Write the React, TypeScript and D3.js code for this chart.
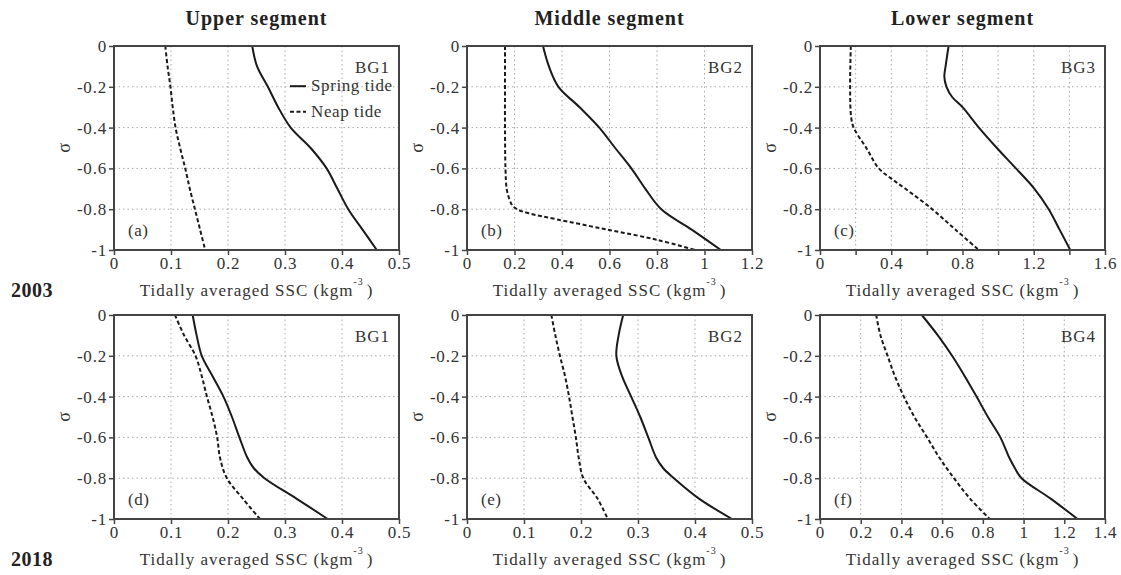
import React, { useRef, useEffect } from "react";
import * as d3 from "d3";

// column / row headings
const segmentTitles = ["Upper segment", "Middle segment", "Lower segment"];
const yearLabels = ["2003", "2018"];

// sigma levels used by most profiles
const sigmaStd = [0, -0.1, -0.2, -0.3, -0.4, -0.5, -0.6, -0.7, -0.8, -0.9, -1];

// (a) 2003 upper, BG1
const aSpring = [0.2425, 0.251, 0.27, 0.288, 0.31, 0.345, 0.373, 0.392, 0.411, 0.436, 0.461];
const aNeap = [0.09, 0.094, 0.099, 0.103, 0.108, 0.116, 0.125, 0.133, 0.142, 0.151, 0.16];

// (b) 2003 middle, BG2
const bSpring = [0.32, 0.345, 0.385, 0.474, 0.557, 0.624, 0.692, 0.751, 0.818, 0.946, 1.069];
const bNeapSigma = [0, -0.2, -0.4, -0.6, -0.7, -0.75, -0.78, -0.8, -0.82, -0.85, -0.9, -0.95, -1];
const bNeap = [0.16, 0.16, 0.16, 0.162, 0.167, 0.178, 0.19, 0.21, 0.26, 0.38, 0.59, 0.8, 0.96];

// (c) 2003 lower, BG3
const cSpringSigma = [0, -0.1, -0.15, -0.2, -0.25, -0.3, -0.4, -0.5, -0.6, -0.7, -0.8, -0.9, -1];
const cSpring = [0.722, 0.705, 0.698, 0.71, 0.742, 0.8, 0.892, 0.993, 1.1, 1.204, 1.284, 1.345, 1.405];
const cNeapSigma = [0, -0.2, -0.35, -0.4, -0.5, -0.6, -0.65, -0.7, -0.8, -0.9, -1];
const cNeap = [0.173, 0.169, 0.175, 0.189, 0.26, 0.33, 0.4, 0.48, 0.63, 0.76, 0.892];

// (d) 2018 upper, BG1
const sigma75 = [0, -0.1, -0.2, -0.3, -0.4, -0.5, -0.6, -0.7, -0.75, -0.8, -0.9, -1];
const dSpring = [0.138, 0.145, 0.154, 0.173, 0.192, 0.207, 0.22, 0.234, 0.245, 0.264, 0.32, 0.375];
const dNeap = [0.107, 0.123, 0.143, 0.154, 0.163, 0.173, 0.181, 0.186, 0.198, 0.226, 0.256];

// (e) 2018 middle, BG2
const eSpring = [0.274, 0.266, 0.262, 0.272, 0.288, 0.304, 0.318, 0.332, 0.344, 0.363, 0.407, 0.465];
const eNeap = [0.148, 0.155, 0.163, 0.172, 0.179, 0.185, 0.191, 0.196, 0.204, 0.229, 0.247];

// (f) 2018 lower, BG4
const fSpring = [0.5, 0.579, 0.649, 0.711, 0.769, 0.825, 0.886, 0.93, 0.957, 0.99, 1.133, 1.265];
const fNeap = [0.276, 0.297, 0.332, 0.368, 0.412, 0.464, 0.526, 0.587, 0.658, 0.737, 0.834];

const zip = (sig, vals) => vals.map((v, i) => ({ s: sig[i], v }));

const panels = [
  { tag: "(a)", station: "BG1", row: 0, col: 0, xMax: 0.5, step: 0.1, labelStep: 0.1,
    spring: zip(sigmaStd, aSpring), neap: zip(sigmaStd, aNeap), legend: true },
  { tag: "(b)", station: "BG2", row: 0, col: 1, xMax: 1.2, step: 0.2, labelStep: 0.2,
    spring: zip(sigmaStd, bSpring), neap: zip(bNeapSigma, bNeap) },
  { tag: "(c)", station: "BG3", row: 0, col: 2, xMax: 1.6, step: 0.2, labelStep: 0.4,
    spring: zip(cSpringSigma, cSpring), neap: zip(cNeapSigma, cNeap) },
  { tag: "(d)", station: "BG1", row: 1, col: 0, xMax: 0.5, step: 0.1, labelStep: 0.1,
    spring: zip(sigma75, dSpring), neap: zip(sigmaStd, dNeap) },
  { tag: "(e)", station: "BG2", row: 1, col: 1, xMax: 0.5, step: 0.1, labelStep: 0.1,
    spring: zip(sigma75, eSpring), neap: zip(sigmaStd, eNeap) },
  { tag: "(f)", station: "BG4", row: 1, col: 2, xMax: 1.4, step: 0.2, labelStep: 0.2,
    spring: zip(sigma75, fSpring), neap: zip(sigmaStd, fNeap) },
];

const FONT = "'Liberation Serif', 'Times New Roman', serif";
const fmt = (d) => `${Math.round(d * 100) / 100}`;

const App = () => {
  const svgRef = useRef(null);

  useEffect(() => {
    const svg = d3.select(svgRef.current);
    svg.selectAll("*").remove();

    const width = 1121;
    const height = 575;
    svg.attr("width", width).attr("height", height);

    const colX = [114, 467, 820];
    const rowY = [46, 315];
    const pw = 285;
    const ph = 204;

    // column titles
    segmentTitles.forEach((t, i) => {
      svg.append("text")
        .attr("x", colX[i] + pw / 2)
        .attr("y", 25)
        .attr("text-anchor", "middle")
        .style("font-family", FONT)
        .style("font-weight", "bold")
        .style("font-size", "20px")
        .style("letter-spacing", "1px")
        .attr("fill", "#222")
        .text(t);
    });

    // year labels
    yearLabels.forEach((t, i) => {
      svg.append("text")
        .attr("x", 11)
        .attr("y", rowY[i] + ph + 47)
        .style("font-family", FONT)
        .style("font-weight", "bold")
        .style("font-size", "20px")
        .style("letter-spacing", "0.5px")
        .attr("fill", "#222")
        .text(t);
    });

    panels.forEach((p) => {
      const x0 = colX[p.col];
      const y0 = rowY[p.row];
      const g = svg.append("g").attr("transform", `translate(${x0},${y0})`);

      const xScale = d3.scaleLinear().domain([0, p.xMax]).range([0, pw]);
      const yScale = d3.scaleLinear().domain([-1, 0]).range([ph, 0]);

      const nx = Math.round(p.xMax / p.step);
      const xTicks = d3.range(nx + 1).map((i) => i * p.step);
      const yTicks = d3.range(6).map((i) => -i * 0.2);

      // dotted grid
      g.append("g")
        .selectAll("line")
        .data(xTicks.slice(1, -1))
        .enter()
        .append("line")
        .attr("x1", (d) => xScale(d))
        .attr("x2", (d) => xScale(d))
        .attr("y1", 0)
        .attr("y2", ph)
        .attr("stroke", "#a8a8a8")
        .attr("stroke-width", 1)
        .attr("stroke-dasharray", "1.5,3");
      g.append("g")
        .selectAll("line")
        .data(yTicks.slice(1, -1))
        .enter()
        .append("line")
        .attr("x1", 0)
        .attr("x2", pw)
        .attr("y1", (d) => yScale(d))
        .attr("y2", (d) => yScale(d))
        .attr("stroke", "#a8a8a8")
        .attr("stroke-width", 1)
        .attr("stroke-dasharray", "1.5,3");

      // profiles
      const line = d3
        .line()
        .x((d) => xScale(d.v))
        .y((d) => yScale(d.s))
        .curve(d3.curveCatmullRom.alpha(0.5));

      g.append("path")
        .datum(p.spring)
        .attr("fill", "none")
        .attr("stroke", "#1a1a1a")
        .attr("stroke-width", 2)
        .attr("d", line);

      g.append("path")
        .datum(p.neap)
        .attr("fill", "none")
        .attr("stroke", "#1a1a1a")
        .attr("stroke-width", 2)
        .attr("stroke-dasharray", "4,2.5")
        .attr("d", line);

      // frame
      g.append("rect")
        .attr("x", 0)
        .attr("y", 0)
        .attr("width", pw)
        .attr("height", ph)
        .attr("fill", "none")
        .attr("stroke", "#444")
        .attr("stroke-width", 2);

      // axes
      const xAxis = d3
        .axisBottom(xScale)
        .tickValues(xTicks)
        .tickSize(5)
        .tickPadding(2)
        .tickFormat((d) => {
          const k = Math.round((d / p.labelStep) * 1000) / 1000;
          return Number.isInteger(k) ? fmt(d) : "";
        });
      const yAxis = d3
        .axisLeft(yScale)
        .tickValues(yTicks)
        .tickSize(5)
        .tickPadding(2)
        .tickFormat(fmt);

      const xa = g.append("g").attr("transform", `translate(0,${ph})`).call(xAxis);
      const ya = g.append("g").call(yAxis);
      [xa, ya].forEach((a) => {
        a.select(".domain").remove();
        a.selectAll("line").attr("stroke", "#444").attr("stroke-width", 1.5);
        a.selectAll("text")
          .attr("fill", "#333")
          .style("font-family", FONT)
          .style("font-size", "17px")
          .style("letter-spacing", "0.8px");
      });

      // axis titles
      const xt = g.append("text")
        .attr("x", pw / 2)
        .attr("y", ph + 46)
        .attr("text-anchor", "middle")
        .attr("fill", "#333")
        .style("font-family", FONT)
        .style("font-size", "17px")
        .style("letter-spacing", "1px");
      xt.append("tspan").text("Tidally averaged SSC (kgm");
      xt.append("tspan").attr("dy", -11).style("font-size", "10px").text("-3");
      xt.append("tspan").attr("dy", 11).attr("dx", 3).text(")");

      g.append("text")
        .attr("transform", `translate(${-44},${ph / 2}) rotate(-90)`)
        .attr("text-anchor", "middle")
        .attr("fill", "#333")
        .style("font-family", FONT)
        .style("font-size", "18px")
        .text("σ");

      // station and panel tag
      g.append("text")
        .attr("x", pw - 9)
        .attr("y", yScale(-0.13))
        .attr("text-anchor", "end")
        .attr("fill", "#333")
        .style("font-family", FONT)
        .style("font-size", "17px")
        .style("letter-spacing", "1px")
        .text(p.station);

      g.append("text")
        .attr("x", 14)
        .attr("y", yScale(-0.93))
        .attr("fill", "#333")
        .style("font-family", FONT)
        .style("font-size", "17px")
        .style("letter-spacing", "0.5px")
        .text(p.tag);

      if (p.legend) {
        const items = [
          { label: "Spring tide", dash: null, s: -0.197 },
          { label: "Neap tide", dash: "4,2.5", s: -0.322 },
        ];
        items.forEach((it) => {
          const yy = yScale(it.s);
          g.append("line")
            .attr("x1", pw - 109)
            .attr("x2", pw - 93)
            .attr("y1", yy)
            .attr("y2", yy)
            .attr("stroke", "#1a1a1a")
            .attr("stroke-width", 2)
            .attr("stroke-dasharray", it.dash);
          g.append("text")
            .attr("x", pw - 88)
            .attr("y", yy + 5)
            .attr("fill", "#333")
            .style("font-family", FONT)
            .style("font-size", "17px")
            .style("letter-spacing", "0.6px")
            .text(it.label);
        });
      }
    });
  }, []);

  return <svg ref={svgRef} style={{ position: "absolute", left: 0, top: 0, background: "#fff" }} />;
};

export default App;
